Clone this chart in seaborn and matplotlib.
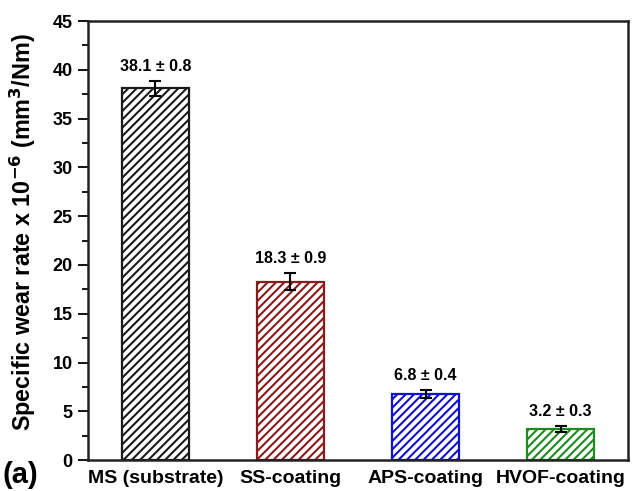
import matplotlib
matplotlib.use("Agg")
import matplotlib.pyplot as plt
import seaborn as sns
import pandas as pd

# Specific wear rate of the substrate and the three coatings
categories = ["MS (substrate)", "SS-coating", "APS-coating", "HVOF-coating"]
wear_rate = [38.1, 18.3, 6.8, 3.2]
wear_err = [0.8, 0.9, 0.4, 0.3]
bar_colors = ["#1a1a1a", "#8b1a1a", "#1010d0", "#1f8a1f"]
y_ticks = [0, 5, 10, 15, 20, 25, 30, 35, 40, 45]

sns.set_style("ticks")
plt.rcParams["font.family"] = ["Liberation Sans", "DejaVu Sans"]
plt.rcParams["font.weight"] = "bold"
plt.rcParams["hatch.linewidth"] = 1.5
plt.rcParams["axes.unicode_minus"] = False
for key in ("text.color", "axes.labelcolor", "xtick.color", "ytick.color"):
    plt.rcParams[key] = "black"

df = pd.DataFrame({"sample": categories, "rate": wear_rate})

fig = plt.figure(figsize=(6.32, 4.91), dpi=100)
ax = fig.add_axes([0.139, 0.063, 0.855, 0.894])

sns.barplot(data=df, x="sample", y="rate", order=categories, width=0.5,
            errorbar=None, color="white", ax=ax, zorder=2)

for patch, col in zip(ax.patches, bar_colors):
    patch.set_facecolor("white")
    patch.set_edgecolor(col)
    patch.set_linewidth(1.6)
    patch.set_hatch("////")
    if hasattr(patch, "set_hatchcolor"):
        patch.set_hatchcolor(col)

xpos = range(len(categories))
ax.errorbar(list(xpos), wear_rate, yerr=wear_err, fmt="none", ecolor="black",
            elinewidth=1.5, capsize=4, capthick=1.5, zorder=3)

for x, v, e in zip(xpos, wear_rate, wear_err):
    ax.annotate(f"{v} ± {e}", xy=(x, v + e), xytext=(0, 5),
                textcoords="offset points", ha="center", va="bottom",
                fontsize=11.5, fontweight="bold")

ax.set_xlim(-0.5, 3.5)
ax.set_ylim(0, 45)
ax.set_yticks(y_ticks)
ax.set_yticks([t + 2.5 for t in y_ticks[:-1]], minor=True)
ax.tick_params(axis="y", which="major", length=7, width=1.3, labelsize=13,
               direction="out", pad=4)
ax.tick_params(axis="y", which="minor", length=4, width=1.3, direction="out")
ax.tick_params(axis="x", length=0, labelsize=14, pad=7)
for lab in ax.get_xticklabels() + ax.get_yticklabels():
    lab.set_fontweight("bold")

for sp in ax.spines.values():
    sp.set_visible(True)
    sp.set_linewidth(1.8)
    sp.set_color("#222222")

ax.set_xlabel("")
ax.set_ylabel("Specific wear rate x 10$^{\\mathbf{-6}}$ (mm$^{\\mathbf{3}}$/Nm)",
              fontsize=16.8, fontweight="bold")
ax.yaxis.set_label_coords(-0.093, 0.52)

fig.text(0.004, 0.033, "(a)", fontsize=21, fontweight="bold", ha="left", va="center")

fig.savefig("out.png", dpi=100)
